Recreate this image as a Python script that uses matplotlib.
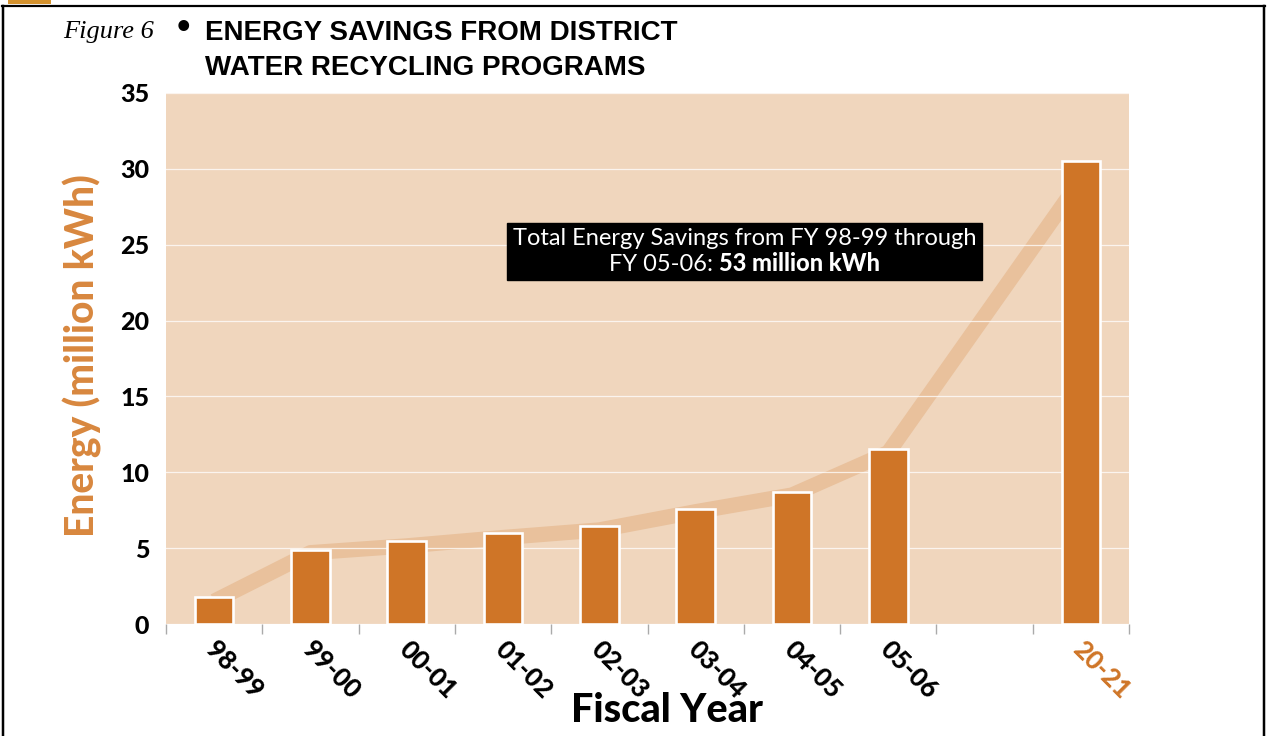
import numpy as np
import matplotlib
matplotlib.use("Agg")
import matplotlib.pyplot as plt
from matplotlib.lines import Line2D
from matplotlib.patches import Rectangle
from matplotlib.offsetbox import TextArea, HPacker, VPacker, AnnotationBbox

# ---------------- data ----------------
years = ["98-99", "99-00", "00-01", "01-02", "02-03", "03-04", "04-05", "05-06", "20-21"]
energy = [1.8, 4.9, 5.45, 6.0, 6.45, 7.6, 8.7, 11.55, 30.5]
trend = [1.5, 4.7, 5.15, 5.7, 6.2, 7.4, 8.5, 11.3, 29.3]
yticks = [0, 5, 10, 15, 20, 25, 30, 35]

W, H = 1267, 736
fig = plt.figure(figsize=(W / 100, H / 100), dpi=100)

def fx(px):
    return px / W

def fy(py):
    return 1 - py / H

BG = "#F0D6BD"
BAR = "#CF7527"
LINE = "#E9C19C"
ORANGE_LBL = "#D8873E"
TICKC = "#AAAAAA"
BOLDFONT = ["Lato", "DejaVu Sans"]

ax = fig.add_axes([fx(166), fy(624), fx(1129) - fx(166), fy(93) - fy(624)])
ax.set_facecolor(BG)

# x positions: one empty slot before the projected year
x = np.arange(len(years), dtype=float)
x[-1] += 1

ax.plot(x, trend, color=LINE, lw=11, solid_joinstyle="round", solid_capstyle="butt", zorder=0.3)
ax.bar(x, energy, width=0.4, color=BAR, edgecolor="white", linewidth=1.9, zorder=3)

ax.set_xlim(-0.5, 9.5)
ax.set_ylim(0, 35)

for s in ax.spines.values():
    s.set_visible(False)

# y axis
ax.set_yticks(yticks)
ax.set_yticklabels([str(v) for v in yticks], fontsize=18, fontweight="black", family=BOLDFONT)
ax.set_yticks(yticks[:-1], minor=True)
ax.tick_params(axis="y", which="major", length=0, pad=12)
ax.tick_params(axis="y", which="minor", length=7, width=1, color=TICKC, direction="out")
ax.set_axisbelow(True)
ax.yaxis.grid(True, which="major", color="white", lw=0.9, alpha=0.75)

# x axis: boundary ticks only, category labels drawn as rotated texts
ax.set_xticks([])
ax.set_xticks(np.arange(-0.5, 10, 1.0), minor=True)
ax.tick_params(axis="x", which="minor", length=7, width=1, color=TICKC, direction="out")
for i, (xi, lab) in enumerate(zip(x, years)):
    ax.annotate(lab, (xi, 0), xycoords=("data", "axes fraction"),
                xytext=(-4, -21), textcoords="offset pixels",
                rotation=-45, ha="left", va="center", rotation_mode="anchor",
                fontsize=18.5, fontweight="black", family=BOLDFONT,
                color=BAR if i == len(years) - 1 else "black", annotation_clip=False)

# axis titles
fig.text(fx(82), fy(356), "Energy (million kWh)", rotation=90, ha="center", va="center",
         color=ORANGE_LBL, fontsize=28, fontweight="black", family=BOLDFONT)
fig.text(fx(667), fy(710), "Fiscal Year", ha="center", va="center",
         color="black", fontsize=28.5, fontweight="black", family=BOLDFONT)

# title
fig.text(fx(63), fy(38), "Figure 6", ha="left", va="baseline", fontsize=19,
         style="italic", family=["Liberation Serif", "DejaVu Serif"])
fig.text(fx(183), fy(37), "\u2022", ha="center", va="baseline", fontsize=22, fontweight="bold")
TITLEFONT = ["Liberation Sans Narrow", "Liberation Sans", "DejaVu Sans"]
fig.text(fx(205), fy(40), "ENERGY SAVINGS FROM DISTRICT", ha="left", va="baseline",
         fontsize=20, fontweight="bold", family=TITLEFONT)
fig.text(fx(205), fy(75), "WATER RECYCLING PROGRAMS", ha="left", va="baseline",
         fontsize=20, fontweight="bold", family=TITLEFONT)

# annotation box
tp = dict(color="white", fontsize=17, family=["Lato", "DejaVu Sans"], fontweight="normal")
tb = dict(color="white", fontsize=17, family=["Lato", "DejaVu Sans"], fontweight="black")
l1 = TextArea("Total Energy Savings from FY 98-99 through", textprops=tp)
l2 = HPacker(children=[TextArea("FY 05-06:", textprops=tp), TextArea("53 million kWh", textprops=tb)],
             pad=0, sep=5, align="baseline")
box = VPacker(children=[l1, l2], pad=0, sep=2, align="center")
ab = AnnotationBbox(box, (fx(744.5), fy(251.5)), xycoords="figure fraction",
                    box_alignment=(0.5, 0.5), frameon=True, pad=0.4,
                    bboxprops=dict(facecolor="black", edgecolor="black", boxstyle="square,pad=0.4"))
ab.set_zorder(5)
ax.add_artist(ab)

# page frame
for xs, ys, lw in [([fx(3), fx(3)], [fy(5.5), fy(736)], 2.5),
                   ([fx(2), fx(1265)], [fy(5.5), fy(5.5)], 2.2),
                   ([fx(1264), fx(1264)], [fy(5.5), fy(736)], 2.5)]:
    fig.add_artist(Line2D(xs, ys, color="black", lw=lw * 0.72, transform=fig.transFigure))
fig.add_artist(Rectangle((fx(8), fy(4.3)), fx(51) - fx(8), fy(0) - fy(4.3),
                         transform=fig.transFigure, color="#D4922E", lw=0))

fig.savefig("out.png", dpi=100)
